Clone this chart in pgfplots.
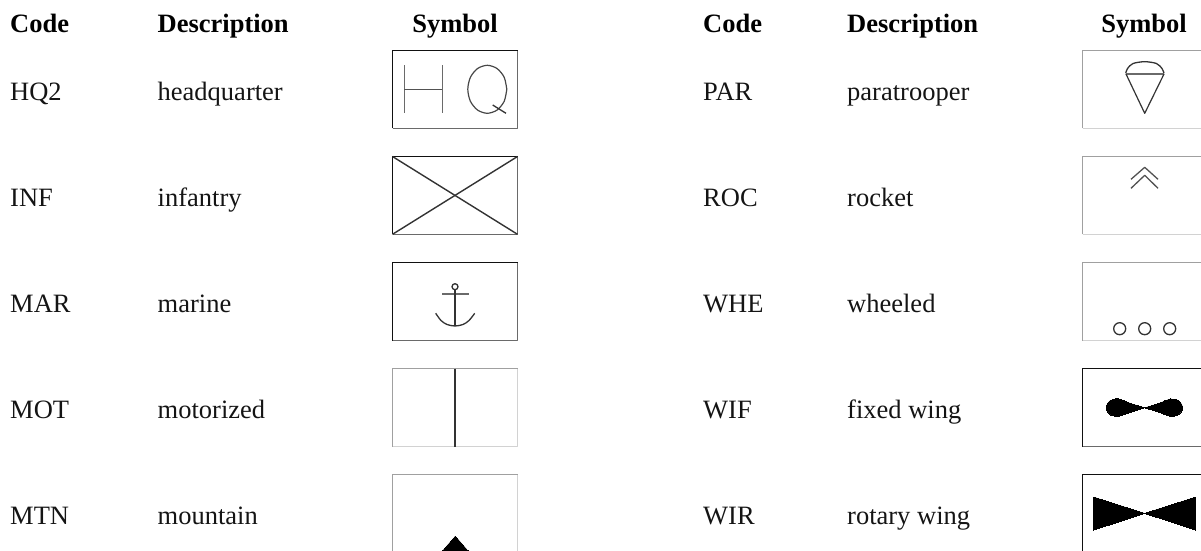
\documentclass[border=0pt]{standalone}
\usepackage{pgfplots}
\pgfplotsset{compat=1.18}
\usepackage{fontspec}
\setmainfont{Liberation Serif}
\definecolor{hi}{HTML}{111111}
\definecolor{lo}{HTML}{6A6A6A}
\definecolor{lhi}{HTML}{A0A0A0}
\definecolor{llo}{HTML}{D2D2D2}
\definecolor{ink}{HTML}{333333}
% left, right, top, bottom, colour top-left, colour bottom-right
\newcommand\boxp[6]{%
 \addplot[#6,line width=1.1pt] coordinates {(#1,#4) (#2,#4) (#2,#3)};
 \addplot[#5,line width=1.1pt] coordinates {(#1,#4) (#1,#3) (#2,#3)};
}
\newcommand\txt[3]{\node[anchor=base west,inner sep=0pt,font=\fontsize{26.5}{30}\selectfont,text=black!92] at (axis cs:#1,#2) {#3};}
\newcommand\hdr[3]{\node[anchor=base,inner sep=0pt,font=\fontsize{26.5}{30}\selectfont\bfseries] at (axis cs:#1,#2) {#3};}
\newcommand\hdl[3]{\node[anchor=base west,inner sep=0pt,font=\fontsize{26.5}{30}\selectfont\bfseries] at (axis cs:#1,#2) {#3};}
\begin{document}
\begin{tikzpicture}
\begin{axis}[
  scale only axis, width=1201pt, height=551pt,
  xmin=0, xmax=1201, ymin=0, ymax=551, y dir=reverse,
  hide axis, clip=true, line join=round]
\addplot[white,opacity=0] coordinates {(0,0) (1201,551)};
\hdl{10}{33}{Code}\hdl{157.5}{33}{Description}\hdr{455}{33}{Symbol}
\hdl{703}{33}{Code}\hdl{847}{33}{Description}\hdr{1144}{33}{Symbol}
\txt{10}{100}{HQ2}\txt{157.5}{100}{headquarter}
\txt{10}{206}{INF}\txt{157.5}{206}{infantry}
\txt{10}{312}{MAR}\txt{157.5}{312}{marine}
\txt{10}{418}{MOT}\txt{157.5}{418}{motorized}
\txt{10}{524}{MTN}\txt{157.5}{524}{mountain}
\txt{703}{100}{PAR}\txt{847}{100}{paratrooper}
\txt{703}{206}{ROC}\txt{847}{206}{rocket}
\txt{703}{312}{WHE}\txt{847}{312}{wheeled}
\txt{703}{418}{WIF}\txt{847}{418}{fixed wing}
\txt{703}{524}{WIR}\txt{847}{524}{rotary wing}
% boxes, left column
\boxp{392.5}{517.5}{50.3}{128.3}{hi}{lo}
\boxp{392.5}{517.5}{156.5}{234.3}{hi}{lo}
\boxp{392.5}{517.5}{262.5}{340.5}{hi}{lo}
\boxp{392.5}{517.5}{368.5}{446.5}{lhi}{llo}
\boxp{392.5}{517.5}{474.5}{560}{lhi}{llo}
% boxes, right column
\boxp{1082.5}{1210}{50.3}{128.3}{lhi}{llo}
\boxp{1082.5}{1210}{156.5}{234.3}{lhi}{llo}
\boxp{1082.5}{1210}{262.5}{340.5}{lhi}{llo}
\boxp{1082.5}{1210}{368.5}{446.5}{hi}{lo}
\boxp{1082.5}{1210}{474.5}{560}{hi}{lo}
% HQ
\addplot[lo,line width=1.6pt] coordinates {(404.3,65) (404.3,113.3)};
\addplot[lo,line width=1.6pt] coordinates {(442.3,65) (442.3,113.3)};
\addplot[ink!85!white,line width=1.3pt] coordinates {(404.3,89.3) (442.3,89.3)};
\addplot[ink!90!white,line width=1.2pt,smooth] coordinates {(506.8,89.3) (504.2,101.3) (497,110.1) (487.3,113.3) (477.6,110.1) (470.4,101.3) (467.8,89.3) (470.4,77.3) (477.6,68.5) (487.3,65.3) (497,68.5) (504.2,77.3) (506.8,89.3)};
\addplot[ink,line width=1.3pt] coordinates {(492.7,105) (506,113.3)};
% INF
\addplot[ink,line width=1.4pt] coordinates {(392.5,156.5) (517.5,234.3)};
\addplot[ink,line width=1.4pt] coordinates {(392.5,234.3) (517.5,156.5)};
% MAR
\addplot[only marks,mark=o,mark size=3pt,mark options={ink,line width=1.3pt}] coordinates {(455,286.7)};
\addplot[lo,line width=1.7pt] coordinates {(442,293.7) (468.7,293.7)};
\addplot[ink,line width=1.4pt] coordinates {(455,290) (455,325.5)};
\addplot[ink,line width=1.3pt,smooth] coordinates {(435.7,313.3) (441,320.5) (447,324.5) (455,326) (463,324.5) (469,320.5) (474.7,313.3)};
% MOT
\addplot[ink,line width=1.7pt] coordinates {(455,368.5) (455,446.5)};
% MTN
\addplot[black,fill=black,line width=0pt] coordinates {(455.3,536) (470,553) (440.6,553) (455.3,536)};
% PAR
\addplot[ink,line width=1.3pt,smooth] coordinates {(1125.7,73.3) (1127.5,68.5) (1133,63.5) (1144.7,61.7) (1156.4,63.5) (1162,68.5) (1164,73.3)};
\addplot[lo,line width=2.2pt] coordinates {(1126,73.7) (1164,73.7)};
\addplot[ink,line width=1.2pt] coordinates {(1126,74) (1144.7,113.3) (1164,74)};
% ROC
\addplot[ink!85!white,line width=1.3pt] coordinates {(1131,179.3) (1144.7,167.3) (1158,179.3)};
\addplot[ink!85!white,line width=1.3pt] coordinates {(1131,188.3) (1144.7,175.3) (1158,188.3)};
% WHE
\addplot[only marks,mark=o,mark size=6pt,mark options={ink,line width=1.3pt}] coordinates {(1119.7,328.7) (1144.7,328.7) (1169.7,328.7)};
% WIF
\addplot[black,fill=black,line width=0pt,smooth,tension=.5] coordinates {(1144.7,407.7) (1131,403.5) (1118.3,398.9) (1109.5,401) (1106,407.7) (1109.5,414.3) (1118.3,416.3) (1131,412) (1144.7,407.7)};
\addplot[black,fill=black,line width=0pt,smooth,tension=.5] coordinates {(1144.7,407.7) (1158.4,403.5) (1170.7,398.9) (1179.2,401) (1182.7,407.7) (1179.2,414.3) (1170.7,416.3) (1158.4,412) (1144.7,407.7)};
% WIR
\addplot[black,fill=black,line width=0pt] coordinates {(1093.7,497) (1144.7,513.3) (1195.7,497) (1195.7,530) (1144.7,513.3) (1093.7,530) (1093.7,497)};
\end{axis}
\end{tikzpicture}
\end{document}
